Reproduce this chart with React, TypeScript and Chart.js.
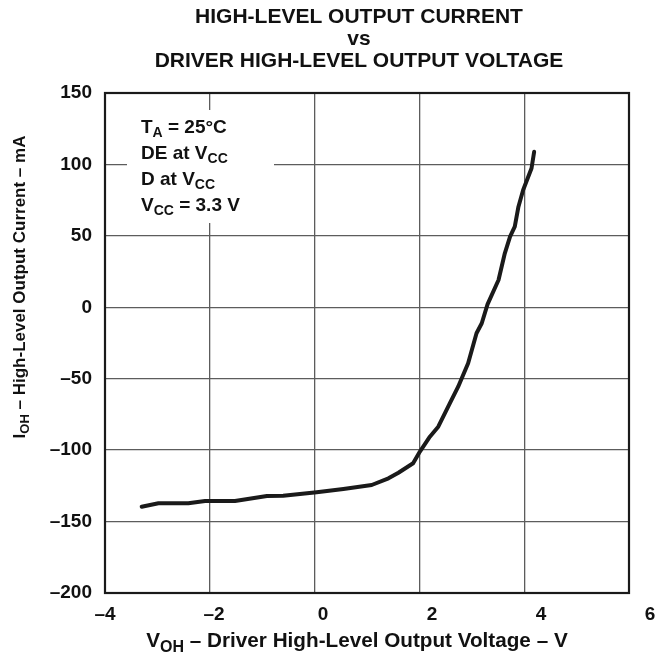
import React, { useEffect, useRef } from 'react';
import { Chart, registerables } from 'chart.js';

Chart.register(...registerables);

// ---------- data ----------
const TITLE_LINES = ['HIGH-LEVEL OUTPUT CURRENT', 'vs', 'DRIVER HIGH-LEVEL OUTPUT VOLTAGE'];

// V_OH (V) and I_OH (mA)
const V_OH = [-3.3, -2.98, -2.41, -2.09, -1.52, -0.91, -0.6, 0.04, 0.55, 1.09, 1.41, 1.6, 1.88, 2.01, 2.2, 2.36, 2.58, 2.74, 2.93, 3.09, 3.19, 3.3, 3.51, 3.63, 3.73, 3.82, 3.89, 3.98, 4.14, 4.19];
const I_OH = [-139.6, -137.2, -137.2, -135.6, -135.6, -132.1, -131.9, -129.5, -127.2, -124.4, -119.7, -115.8, -109.2, -101, -90.6, -83.6, -67.2, -55.6, -39.2, -18.2, -11.2, 2, 19.1, 37.8, 49.4, 56.4, 70.4, 82.1, 97.3, 108.9];

const X_TICKS = [-4, -2, 0, 2, 4, 6];
const Y_TICKS = [150, 100, 50, 0, -50, -100, -150, -200];

type Run = { t: string; sub?: boolean };
const X_TITLE: Run[] = [{ t: 'V' }, { t: 'OH', sub: true }, { t: ' – Driver High-Level Output Voltage – V' }];
const Y_TITLE: Run[] = [{ t: 'I' }, { t: 'OH', sub: true }, { t: ' – High-Level Output Current – mA' }];
const NOTE_LINES: Run[][] = [
  [{ t: 'T' }, { t: 'A', sub: true }, { t: ' = 25°C' }],
  [{ t: 'DE at V' }, { t: 'CC', sub: true }],
  [{ t: 'D at V' }, { t: 'CC', sub: true }],
  [{ t: 'V' }, { t: 'CC', sub: true }, { t: ' = 3.3 V' }],
];

// ---------- style ----------
const FAMILY = '"Liberation Sans", Arial, Helvetica, sans-serif';
const INK = '#111111';
const GRID = '#5c5c5c';
const LABEL_STRETCH = 545 / 524; // tick labels in the original drift slightly wider than the grid

const fmt = (v: number | string) => {
  const n = Number(v);
  return n < 0 ? '–' + Math.abs(n) : String(n);
};

function runsWidth(ctx: CanvasRenderingContext2D, runs: Run[], size: number) {
  let w = 0;
  for (const r of runs) {
    ctx.font = `bold ${r.sub ? Math.round(size * 0.75) : size}px ${FAMILY}`;
    w += ctx.measureText(r.t).width;
  }
  return w;
}

function drawRuns(ctx: CanvasRenderingContext2D, runs: Run[], x: number, y: number, size: number) {
  let cx = x;
  ctx.textAlign = 'left';
  ctx.textBaseline = 'alphabetic';
  for (const r of runs) {
    const s = r.sub ? Math.round(size * 0.75) : size;
    ctx.font = `bold ${s}px ${FAMILY}`;
    ctx.fillText(r.t, cx, r.sub ? y + size * 0.22 : y);
    cx += ctx.measureText(r.t).width;
  }
}

const textPlugin = {
  id: 'textPlugin',
  beforeDatasetsDraw(chart: any) {
    const ctx: CanvasRenderingContext2D = chart.ctx;
    const a = chart.chartArea;
    ctx.save();
    // white note box interrupting the grid
    ctx.fillStyle = '#ffffff';
    ctx.fillRect(a.left + 22, a.top + 17, 147, 113);
    ctx.fillStyle = INK;
    NOTE_LINES.forEach((line, i) => drawRuns(ctx, line, a.left + 36, a.top + 40 + i * 26, 19));
    ctx.restore();
  },
  afterDraw(chart: any) {
    const ctx: CanvasRenderingContext2D = chart.ctx;
    const a = chart.chartArea;
    ctx.save();
    // frame
    ctx.strokeStyle = '#1a1a1a';
    ctx.lineWidth = 2.2;
    ctx.strokeRect(a.left, a.top, a.right - a.left, a.bottom - a.top);
    // title
    ctx.fillStyle = INK;
    ctx.textAlign = 'center';
    ctx.textBaseline = 'alphabetic';
    ctx.font = `bold 21px ${FAMILY}`;
    TITLE_LINES.forEach((t, i) => ctx.fillText(t, 359, 23 + i * 22));
    // x title
    const xs = 20.7;
    const xw = runsWidth(ctx, X_TITLE, xs);
    drawRuns(ctx, X_TITLE, 357 - xw / 2, 647, xs);
    // y title
    const ys = 17;
    const yw = runsWidth(ctx, Y_TITLE, ys);
    ctx.translate(25, 287);
    ctx.rotate(-Math.PI / 2);
    drawRuns(ctx, Y_TITLE, -yw / 2, 0, ys);
    ctx.restore();
  },
};

export default function App() {
  const ref = useRef<HTMLCanvasElement | null>(null);
  useEffect(() => {
    if (!ref.current) return;
    const tickFont = { family: FAMILY, size: 19, weight: 'bold' as const };
    const chart = new Chart(ref.current, {
      type: 'line',
      data: {
        datasets: [
          {
            data: V_OH.map((v, i) => ({ x: v, y: I_OH[i] })),
            borderColor: '#1a1a1a',
            borderWidth: 4,
            pointRadius: 0,
            tension: 0,
            borderCapStyle: 'round',
            borderJoinStyle: 'round',
            fill: false,
          },
        ],
      },
      options: {
        animation: false,
        responsive: false,
        maintainAspectRatio: false,
        layout: { padding: { top: 93, right: 39, left: 0, bottom: 0 } },
        plugins: {
          legend: { display: false },
          title: { display: false },
          tooltip: { enabled: false },
        },
        scales: {
          x: {
            type: 'linear',
            position: 'bottom',
            min: X_TICKS[0],
            max: X_TICKS[X_TICKS.length - 1],
            afterBuildTicks: (s: any) => {
              s.ticks = X_TICKS.map((v) => ({ value: v }));
            },
            ticks: { display: false },
            grid: { color: GRID, lineWidth: 1.3, drawTicks: false },
            border: { display: false },
            afterFit: (s: any) => {
              s.height = 0;
            },
          },
          xl: {
            type: 'linear',
            position: 'bottom',
            min: X_TICKS[0],
            max: X_TICKS[0] + (X_TICKS[X_TICKS.length - 1] - X_TICKS[0]) / LABEL_STRETCH,
            afterBuildTicks: (s: any) => {
              s.ticks = X_TICKS.map((v) => ({ value: v }));
            },
            ticks: {
              autoSkip: false,
              maxRotation: 0,
              minRotation: 0,
              padding: 10,
              font: tickFont,
              color: INK,
              callback: fmt,
            },
            grid: { display: false, drawTicks: false },
            border: { display: false },
            afterFit: (s: any) => {
              s.height = 63;
            },
          },
          y: {
            type: 'linear',
            min: Y_TICKS[Y_TICKS.length - 1],
            max: Y_TICKS[0],
            afterBuildTicks: (s: any) => {
              s.ticks = [...Y_TICKS].reverse().map((v) => ({ value: v }));
            },
            ticks: { padding: 13, font: tickFont, color: INK, callback: fmt },
            grid: { color: GRID, lineWidth: 1.3, drawTicks: false },
            border: { display: false },
            afterFit: (s: any) => {
              s.width = 105;
            },
          },
        },
      } as any,
      plugins: [textPlugin],
    });
    return () => chart.destroy();
  }, []);

  return (
    <div style={{ position: 'absolute', left: 0, top: 0, width: 668, height: 656, background: '#fff' }}>
      <canvas ref={ref} width={668} height={656} style={{ display: 'block' }} />
    </div>
  );
}
